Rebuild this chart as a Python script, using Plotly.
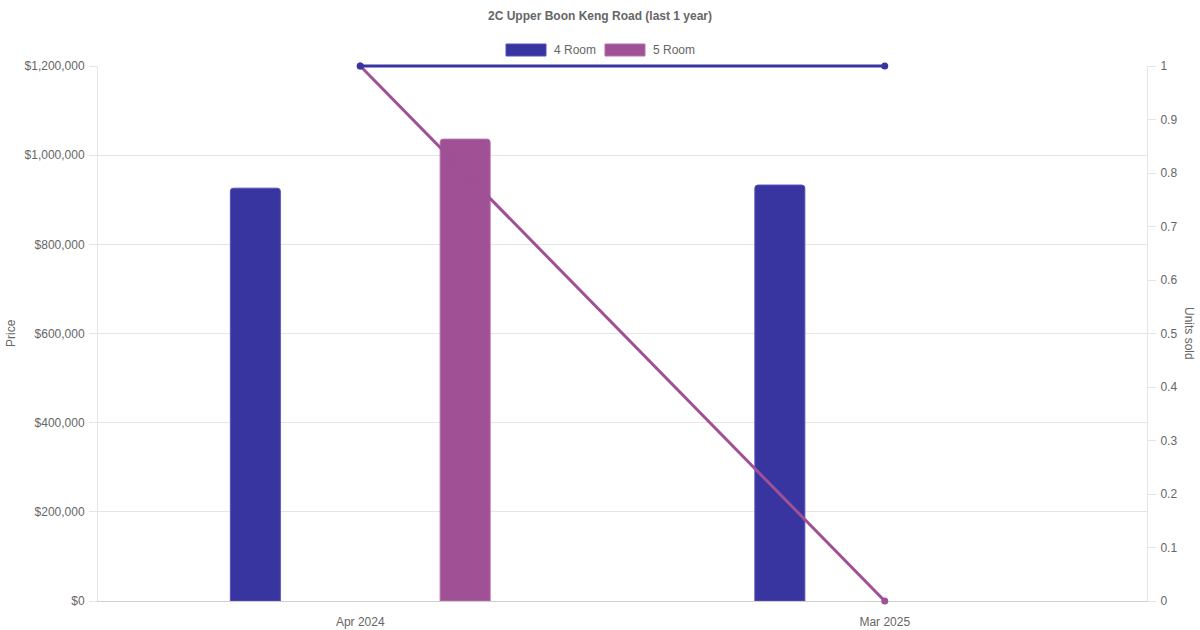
import plotly.graph_objects as go

categories = ["Apr 2024", "Mar 2025"]
price_4room = [926000, 933000]
price_5room = [1036000, None]
units_4room = [1, 1]
units_5room = [1, 0]

c4 = "#3935a0"
c5 = "#a05094"
grid = "#e5e5e5"
txt = "#666666"
font = "Liberation Sans, Arial, sans-serif"

W, H = 1200, 630
L, R = 98, 1147          # plot area x pixels
T, B = 66, 601           # plot area y pixels
PAD = 10                 # extra room so lines at the edge are not clipped
mt, mb = T - PAD, H - B - PAD
ph = H - mt - mb
dom = [PAD / ph, (ph - PAD) / ph]
ext = PAD / (B - T)

bw = 50 / 524.5

fig = go.Figure()
fig.add_trace(go.Bar(x=categories, y=price_4room, yaxis="y", width=bw, offset=-0.2 - bw / 2,
                     marker=dict(color=c4, line=dict(color="#5552b8", width=1), cornerradius=3),
                     showlegend=False, name="4 Room"))
fig.add_trace(go.Bar(x=categories, y=price_5room, yaxis="y", width=bw, offset=0.2 - bw / 2,
                     marker=dict(color=c5, line=dict(color="#b76fac", width=1), cornerradius=3),
                     showlegend=False, name="5 Room"))
# invisible trace so the right units axis is drawn
fig.add_trace(go.Scatter(x=categories, y=units_5room, mode="lines", yaxis="y2",
                         line=dict(width=0, color="rgba(0,0,0,0)"), hoverinfo="skip",
                         showlegend=False))
fig.add_trace(go.Scatter(x=categories, y=units_5room, mode="lines+markers", yaxis="y3",
                         line=dict(color=c5, width=3), marker=dict(size=7, color=c5),
                         cliponaxis=False, showlegend=False, name="5 Room"))
fig.add_trace(go.Scatter(x=categories, y=units_4room, mode="lines+markers", yaxis="y3",
                         line=dict(color=c4, width=3), marker=dict(size=7, color=c4),
                         cliponaxis=False, showlegend=False, name="4 Room"))

fig.update_layout(
    width=W, height=H,
    margin=dict(l=L, r=W - R, t=mt, b=mb, autoexpand=False),
    paper_bgcolor="white", plot_bgcolor="rgba(0,0,0,0)",
    font=dict(family=font, size=12, color=txt),
    barmode="overlay",
    xaxis=dict(range=[-0.5, 1.5], showgrid=False, showline=True, linecolor="#d0d0d0",
               ticks="", tickfont=dict(size=12, color=txt), zeroline=False, automargin=False,
               ticklabelstandoff=10, anchor="y"),
    yaxis=dict(side="left", domain=dom, range=[0, 1200000], dtick=200000, anchor="x",
               showgrid=True, gridcolor=grid, zeroline=False, showline=True, linecolor=grid,
               ticks="outside", ticklen=8, tickcolor=grid, tickprefix="$", tickformat=",d",
               tickfont=dict(size=12, color=txt), automargin=False, ticklabelstandoff=2),
    yaxis2=dict(side="right", overlaying="y", range=[0, 1], dtick=0.1, showgrid=False,
                zeroline=False, showline=True, linecolor=grid, ticks="outside", ticklen=8,
                tickcolor=grid, tickfont=dict(size=12, color=txt), tickformat=".1~f",
                automargin=False, ticklabelstandoff=2),
    yaxis3=dict(domain=[0, 1], anchor="x", range=[0 - ext, 1 + ext], visible=False,
                showgrid=False, zeroline=False, automargin=False),
    showlegend=False,
)


def px_x(x):
    return (x - L) / (R - L)


def px_y(y):
    return (H - mb - y) / ph


ann = [
    dict(text="<b>2C Upper Boon Keng Road (last 1 year)</b>", x=600, y=16),
    dict(text="4 Room", x=552, y=50, xanchor="left"),
    dict(text="5 Room", x=651, y=50, xanchor="left"),
    dict(text="Price", x=11, y=333, textangle=-90),
    dict(text="Units sold", x=1189, y=333, textangle=90),
]
annotations = []
for a in ann:
    annotations.append(dict(xref="paper", yref="paper", showarrow=False,
                            font=dict(size=12, color=txt, family=font),
                            xanchor=a.get("xanchor", "center"), yanchor="middle", text=a["text"],
                            textangle=a.get("textangle", 0), x=px_x(a["x"]), y=px_y(a["y"])))
fig.update_layout(annotations=annotations)

shapes = []
for x0, col, lc in [(506, c4, "#5552b8"), (605, c5, "#b76fac")]:
    shapes.append(dict(type="rect", xref="paper", yref="paper",
                       x0=px_x(x0), x1=px_x(x0 + 40), y0=px_y(56), y1=px_y(44),
                       fillcolor=col, line=dict(color=lc, width=1)))
fig.update_layout(shapes=shapes)

fig.write_html("out.html", config={"displayModeBar": False},
               post_script="document.body.style.margin='0';")
